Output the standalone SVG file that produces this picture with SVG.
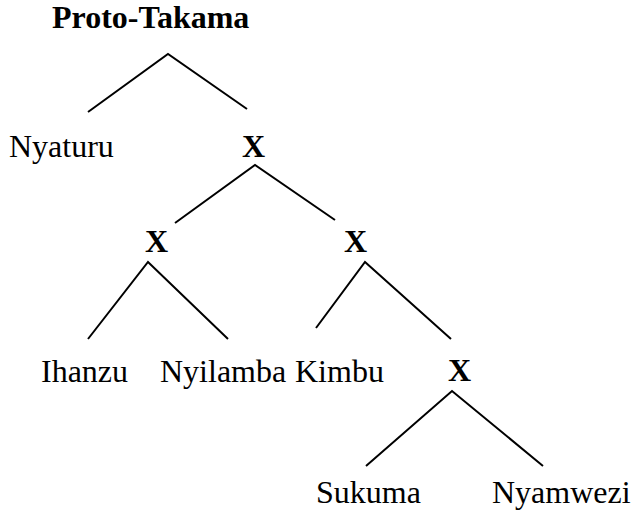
<svg xmlns="http://www.w3.org/2000/svg" width="631" height="519" viewBox="0 0 631 519">
  <style>
    .lbl { font-family: "Liberation Serif", "Times New Roman", serif; font-size: 32px; fill: #000; }
    .b { font-weight: bold; }
    .mid { text-anchor: middle; }
    .edge { stroke: #000; stroke-width: 2; fill: none; stroke-linecap: butt; }
  </style>
  <rect width="631" height="519" fill="#fff"/>

  <g id="connectors">
    <path class="edge" d="M88,112 L168,54 L247,109"/>
    <path class="edge" d="M175,223 L255,165 L335,220"/>
    <path class="edge" d="M88,339 L148,262 L228,339"/>
    <path class="edge" d="M316,328 L365,262 L451,339"/>
    <path class="edge" d="M366,466 L452,391 L543,466"/>
  </g>

  <g id="proto-takama"><text class="lbl b" x="52" y="28">Proto-Takama</text></g>
  <g id="nyaturu"><text class="lbl" x="9" y="157">Nyaturu</text></g>
  <g id="x1"><text class="lbl b mid" x="253.5" y="157">X</text></g>
  <g id="x2"><text class="lbl b mid" x="156.5" y="252">X</text></g>
  <g id="x3"><text class="lbl b mid" x="355.5" y="252">X</text></g>
  <g id="ihanzu"><text class="lbl" x="41" y="382">Ihanzu</text></g>
  <g id="nyilamba"><text class="lbl" x="160" y="382">Nyilamba</text></g>
  <g id="kimbu"><text class="lbl" x="295" y="382">Kimbu</text></g>
  <g id="x4"><text class="lbl b mid" x="459.5" y="381">X</text></g>
  <g id="sukuma"><text class="lbl" x="316" y="503">Sukuma</text></g>
  <g id="nyamwezi"><text class="lbl" x="492" y="503">Nyamwezi</text></g>
</svg>
